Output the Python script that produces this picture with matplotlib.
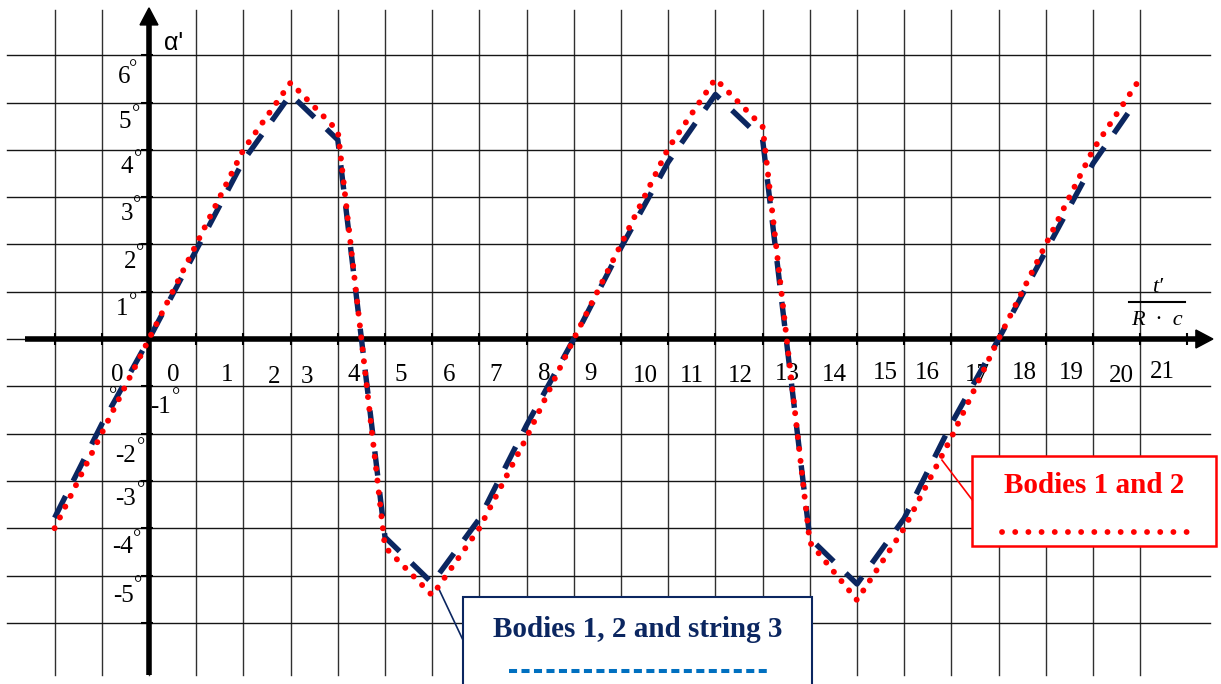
import numpy as np
import matplotlib.pyplot as plt
from matplotlib.patches import Polygon, Rectangle

# valores, em unidades da grade (eixo t'/(R.c) e alpha' em graus)
t_corpos_corda = [-2, -1, 0, 1, 2, 3, 4, 5, 6, 7, 8, 9, 10, 11, 12, 13, 14, 15, 16, 17, 18, 19, 20, 20.85]
alpha_corpos_corda = [-3.78, -1.8, 0.0, 1.88, 3.77, 5.17, 4.21, -4.19, -5.16, -3.8, -1.82, 0.0,
                      1.93, 3.74, 5.17, 4.22, -4.21, -5.18, -3.79, -1.79, 0.0, 1.86, 3.71, 4.93]

t_corpos = [-2, -1, 0, 1, 2, 3, 4, 5, 6, 7, 8, 9, 10, 11, 12, 13, 14, 15, 16, 17, 18, 19, 20, 21]
alpha_corpos = [-4.0, -1.99, 0.0, 2.0, 4.0, 5.42, 4.4, -4.4, -5.42, -4.0, -2.08, 0.0,
                2.0, 4.03, 5.5, 4.49, -4.3, -5.52, -4.0, -2.08, 0.0, 2.0, 4.0, 5.51]

rotulos_x = ['0', '0', '1', '2', '3', '4', '5', '6', '7', '8', '9', '10', '11',
             '12', '13', '14', '15', '16', '17', '18', '19', '20', '21']
rotulos_y = ['6', '5', '4', '3', '2', '1', '-1', '-2', '-3', '-4', '-5']

legenda_corpos = 'Bodies 1 and 2'
legenda_corpos_corda = 'Bodies 1, 2 and string 3'

# ---- layout (posicoes dos textos, em unidades da grade) ----
pos_rotulos_x = [-0.68, 0.51, 1.65, 2.65, 3.35, 4.34, 5.34, 6.36, 7.35, 8.37, 9.36, 10.51,
                 11.50, 12.52, 13.52, 14.53, 15.61, 16.50, 17.54, 18.54, 19.53, 20.61, 21.48]
base_rotulos_x = [-0.88, -0.88, -0.88, -0.92, -0.92, -0.88, -0.88, -0.88, -0.88, -0.86, -0.86,
                  -0.90, -0.90, -0.90, -0.86, -0.88, -0.84, -0.84, -0.88, -0.84, -0.84, -0.90, -0.82]
pos_rotulos_y = [-0.53, -0.51, -0.47, -0.47, -0.40, -0.57, 0.25, -0.49, -0.49, -0.57, -0.55]
base_rotulos_y = [5.41, 4.46, 3.51, 2.52, 1.50, 0.51, -1.56, -2.60, -3.51, -4.52, -5.56]
aneis_x = [-0.34, -0.28, -0.23, -0.25, -0.19, -0.34, 0.57, -0.17, -0.17, -0.25, -0.23, -0.76]
aneis_y = [5.86, 4.90, 3.95, 2.98, 1.95, 0.93, -1.08, -2.14, -3.04, -4.08, -5.05, -1.06]

LARG, ALT = 1221, 684
X0_PX, Y0_PX = 149, 339
CEL_X, CEL_Y = 47.2, 47.3

AZUL = '#0b2660'
VERMELHO = '#ff0000'
SERIF = ['Liberation Serif', 'DejaVu Serif']


def principal():
    fig = plt.figure(figsize=(LARG / 100, ALT / 100), dpi=100)
    ax = fig.add_axes([0, 0, 1, 1])
    ax.set_xlim(-X0_PX / CEL_X, (LARG - X0_PX) / CEL_X)
    ax.set_ylim((Y0_PX - ALT) / CEL_Y, Y0_PX / CEL_Y)
    ax.axis('off')

    # grade
    for gx in range(-2, 22):
        ax.plot([gx, gx], [-7.1, 6.95], color='#303030', lw=1.0, zorder=1)
    for gy in range(-6, 7):
        ax.plot([-3.0, 22.48], [gy, gy], color='#151515', lw=1.0, zorder=1)

    # eixos com setas
    ax.plot([-2.63, 22.2], [0, 0], color='black', lw=4.0, solid_capstyle='butt', zorder=2)
    ax.plot([0, 0], [-7.1, 6.7], color='black', lw=4.0, solid_capstyle='butt', zorder=2)
    ax.add_patch(Polygon([(22.18, 0.19), (22.54, 0), (22.18, -0.19)], closed=True,
                         color='black', zorder=2))
    ax.add_patch(Polygon([(-0.19, 6.64), (0, 7.0), (0.19, 6.64)], closed=True,
                         color='black', zorder=2))
    ax.plot(np.arange(-2, 23), np.zeros(25), ls='none', marker='|', ms=8, mew=1.5,
            color='black', zorder=2)
    ax.plot(np.full(13, -0.05), np.arange(-6, 7), ls='none', marker='_', ms=8, mew=1.5,
            color='black', zorder=2)

    # rotulos
    for texto, x, y in zip(rotulos_x, pos_rotulos_x, base_rotulos_x):
        ax.text(x, y, texto, ha='center', va='baseline', fontsize=18, family=SERIF, zorder=3)
    for texto, x, y in zip(rotulos_y, pos_rotulos_y, base_rotulos_y):
        ax.text(x, y, texto, ha='center', va='baseline', fontsize=18, family=SERIF, zorder=3)
    for x, y in zip(aneis_x, aneis_y):
        ax.text(x, y - 0.25, '°', ha='center', va='baseline', fontsize=15, family=SERIF, zorder=3)

    ax.text(0.53, 6.11, "α'", ha='center', va='baseline', fontsize=18,
            family=['Liberation Sans', 'DejaVu Sans'], zorder=3)
    ax.text(21.36, 0.99, 't′', ha='center', va='baseline', fontsize=16, style='italic',
            family=SERIF, zorder=3)
    ax.plot([20.76, 21.95], [0.79, 0.79], color='black', lw=1.5, zorder=3)
    ax.text(21.36, 0.30, 'R  ·  c', ha='center', va='baseline', fontsize=16, style='italic',
            family=SERIF, zorder=3)

    # curvas
    ax.plot(t_corpos_corda, alpha_corpos_corda, color=AZUL, lw=3.9,
            linestyle=(0, (4.5, 3.1)), dash_capstyle='butt', zorder=5)
    ax.plot(t_corpos, alpha_corpos, color=VERMELHO, lw=4.3,
            linestyle=(0, (0.01, 2.0)), dash_capstyle='round', zorder=6)

    # caixa de legenda vermelha
    ax.add_patch(Rectangle((17.44, -4.38), 22.6 - 17.44, 4.38 - 2.47, facecolor='white',
                           edgecolor=VERMELHO, lw=1.8, zorder=4))
    ax.plot([16.8, 17.44], [-2.56, -3.40], color=VERMELHO, lw=1.2, zorder=4)
    ax.text(20.03, -3.26, legenda_corpos, ha='center', va='baseline', fontsize=21,
            fontweight='bold', color=VERMELHO, family=SERIF, zorder=5)
    ax.plot([18.07, 21.99], [-4.08, -4.08], color=VERMELHO, lw=4.2,
            linestyle=(0, (0.01, 2.25)), dash_capstyle='round', zorder=5)

    # caixa de legenda azul
    ax.add_patch(Rectangle((6.65, -7.6), 14.05 - 6.65, 7.6 - 5.45, facecolor='white',
                           edgecolor=AZUL, lw=1.5, zorder=4))
    ax.plot([6.12, 6.65], [-5.24, -6.36], color=AZUL, lw=1.2, zorder=4)
    ax.text(10.35, -6.30, legenda_corpos_corda, ha='center', va='baseline', fontsize=21,
            fontweight='bold', color=AZUL, family=SERIF, zorder=5)
    ax.plot([7.63, 13.09], [-7.01, -7.01], color='#0070c0', lw=2.9,
            linestyle=(0, (2.0, 1.1)), dash_capstyle='butt', zorder=5)

    fig.savefig('out.png', dpi=100)


if __name__ == '__main__':
    principal()
